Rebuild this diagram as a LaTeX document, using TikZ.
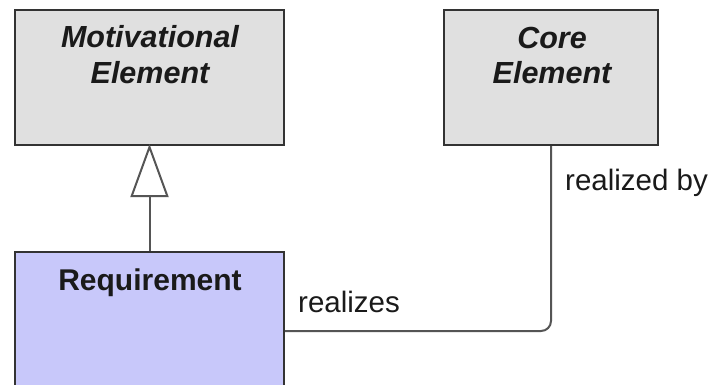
\documentclass[tikz,border=0pt]{standalone}
\usepackage{fontspec}
\setmainfont{Liberation Sans}
\usetikzlibrary{arrows.meta}
\definecolor{boxgray}{HTML}{E0E0E0}
\definecolor{reqblue}{HTML}{C8C8FA}
\definecolor{edgecol}{HTML}{333333}
\definecolor{linecol}{HTML}{555555}
\definecolor{txtcol}{HTML}{1A1A1A}
\begin{document}
\begin{tikzpicture}[x=1pt,y=-1pt,
  elem/.style={draw=edgecol,line width=2.2pt,inner sep=0pt},
  title/.style={font=\fontsize{30.5}{34}\selectfont\bfseries\itshape,text=txtcol,inner sep=0pt},
  reqtitle/.style={font=\fontsize{30}{34}\selectfont\bfseries,text=txtcol,inner sep=0pt},
  lbl/.style={font=\fontsize{29.5}{34}\selectfont,text=txtcol,inner sep=0pt},
  conn/.style={draw=linecol,line width=2pt}]
\useasboundingbox (0,0) rectangle (713,384);
\clip (0,0) rectangle (713,384);
\fill[white] (0,0) rectangle (713,384);
\node[elem,fill=boxgray,minimum width=269pt,minimum height=135pt] (mot) at (149.5,77.5) {};
\node[elem,fill=boxgray,minimum width=214pt,minimum height=135pt] (core) at (551,77.5) {};
\node[elem,fill=reqblue,minimum width=269pt,minimum height=158pt] (req) at (149.5,331) {};
\node[title,anchor=base] (motA) at (150,47) {Motivational};
\node[title,anchor=base] (motB) at (150,83) {Element};
\node[title,anchor=base] (coreA) at (552,48) {Core};
\node[title,anchor=base] (coreB) at (552,83) {Element};
\node[reqtitle,anchor=base] (reqT) at (150,290) {Requirement};
\draw[conn,shorten >=-2pt,-{Triangle[open,length=53pt,width=38pt,line width=2pt]}] (req.north) -- (mot.south);
\draw[conn,rounded corners=10pt] (req.east) -- (req.east -| core.south) -- (core.south);
\node[lbl,anchor=base west] (realizes) at (298,312) {realizes};
\node[lbl,anchor=base west] (realizedby) at (565,190) {realized by};
\end{tikzpicture}
\end{document}
